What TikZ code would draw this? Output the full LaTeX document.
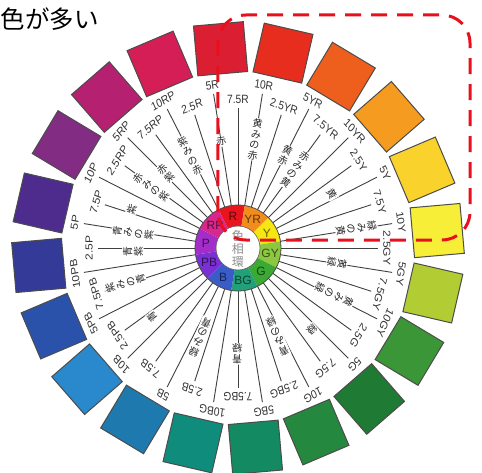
\documentclass[tikz,border=0pt]{standalone}
\usepackage{fontspec}
\setmainfont{Liberation Sans}
\newfontfamily\jp{Noto Sans CJK JP}
\definecolor{c5R}{HTML}{DC1E32}
\definecolor{c10R}{HTML}{E62D1E}
\definecolor{c5YR}{HTML}{EE5F1E}
\definecolor{c10YR}{HTML}{F59B20}
\definecolor{c5Y}{HTML}{F9D22C}
\definecolor{c10Y}{HTML}{F7EE38}
\definecolor{c5GY}{HTML}{B2CC34}
\definecolor{c10GY}{HTML}{3A9636}
\definecolor{c5G}{HTML}{1F7A34}
\definecolor{c10G}{HTML}{24893E}
\definecolor{c5BG}{HTML}{148A62}
\definecolor{c10BG}{HTML}{108C7C}
\definecolor{c5B}{HTML}{1E7AAE}
\definecolor{c10B}{HTML}{2A88CC}
\definecolor{c5PB}{HTML}{2A52AA}
\definecolor{c10PB}{HTML}{333A98}
\definecolor{c5P}{HTML}{4E2C8E}
\definecolor{c10P}{HTML}{822C84}
\definecolor{c5RP}{HTML}{B62070}
\definecolor{c10RP}{HTML}{D61E56}
\definecolor{rR}{HTML}{E8141E}
\definecolor{rYR}{HTML}{F28C1E}
\definecolor{rY}{HTML}{F5E614}
\definecolor{rGY}{HTML}{8DC63F}
\definecolor{rG}{HTML}{3AAA35}
\definecolor{rBG}{HTML}{22A07A}
\definecolor{rB}{HTML}{3A5CC8}
\definecolor{rPB}{HTML}{7A30D4}
\definecolor{rP}{HTML}{A22DC8}
\definecolor{rRP}{HTML}{D8288E}
\definecolor{dashred}{HTML}{E8101C}
\begin{document}
\begin{tikzpicture}[x=1pt,y=1pt,
  spoke/.style={draw=black!75, line width=0.9pt},
  huelab/.style={font=\fontsize{12}{12}\selectfont, text=black!80, xscale=0.85, inner sep=0.5pt},
  jname/.style={font=\jp\fontsize{10}{10.6}\selectfont, fill=white, inner sep=0.8pt, align=center, text=black!85},
  swatch/.style={draw=black!70, line width=1pt, minimum size=50pt, inner sep=0pt},
  ringlab/.style={font=\fontsize{12}{12}\selectfont, text=black, opacity=0.6, inner sep=0pt},
  reddash/.style={draw=dashred, line width=3pt, dash pattern=on 16pt off 10pt, rounded corners=28pt},
]
\fill[white] (-238,-224) rectangle (244,248);
\useasboundingbox (-238,-224) rectangle (244,248);
% outer swatches
\foreach \ang/\col [count=\i] in {95/c5R,77/c10R,59/c5YR,41/c10YR,23/c5Y,5/c10Y,-13/c5GY,-31/c10GY,-49/c5G,-67/c10G,-85/c5BG,-103/c10BG,-121/c5B,-139/c10B,-157/c5PB,-175/c10PB,167/c5P,149/c10P,131/c5RP,113/c10RP}
  \node[swatch, fill=\col, rotate=\ang-90] (sq\i) at (\ang:200) {};
% spokes and hue labels
\foreach \lab [count=\k from 0] in {2.5R,5R,7.5R,10R,2.5YR,5YR,7.5YR,10YR,2.5Y,5Y,7.5Y,10Y,2.5GY,5GY,7.5GY,10GY,2.5G,5G,7.5G,10G,2.5BG,5BG,7.5BG,10BG,2.5B,5B,7.5B,10B,2.5PB,5PB,7.5PB,10PB,2.5P,5P,7.5P,10P,2.5RP,5RP,7.5RP,10RP}{
  \pgfmathsetmacro\ang{108-9*\k}
  \ifodd\k \def\re{156}\def\rl{165}\else \def\re{140}\def\rl{149}\fi
  \coordinate (s\k) at (\ang:43);
  \node[huelab, rotate=\ang-90] (h\k) at (\ang:\rl) {\lab};
  \draw[spoke] (s\k) -- (\ang:\re);
}
% hue ring
\foreach \c/\t [count=\j from 0] in {rR/R,rYR/YR,rY/Y,rGY/GY,rG/G,rBG/BG,rB/B,rPB/PB,rP/P,rRP/RP}{
  \pgfmathsetmacro\a{117-36*\j}
  \pgfmathsetmacro\b{\a-36}
  \pgfmathsetmacro\m{\a-18}
  \fill[\c] (\a:22) arc[start angle=\a, end angle=\b, radius=22] -- (\b:43) arc[start angle=\b, end angle=\a, radius=43] -- cycle;
  \node[ringlab] (r\j) at (\m:32.5) {\t};
}
\draw[black!70, line width=0.8pt] (0,0) circle[radius=43];
\draw[black!60, line width=0.6pt] (0,0) circle[radius=22];
% Japanese colour names
\foreach \ang/\r/\t [count=\n] in {
  99/108/赤, 81/110/黄\\み\\の\\赤, 63/104/黄\\赤, 54/97/赤\\み\\の\\黄, 30/108/黄,
  9.5/120/緑\\み\\の\\黄, -8.5/100/黄\\緑, -26/107/黄\\み\\の\\緑, -48/110/緑, -66/97/青\\み\\の\\緑,
  -90.5/106/青\\緑, -113/97/緑\\み\\の\\青, -141/110/青, -162.5/118/紫\\み\\の\\青, 182/105/青\\紫,
  172/106/青\\み\\の\\紫, 160/113/紫, 145/106/赤\\み\\の\\紫, 134/104/赤\\紫, 117.5/104/紫\\み\\の\\赤}
  \node[jname, rotate=\ang-90] (nm\n) at (\ang:\r) {\t};
% centre text
\node[font=\jp\fontsize{12}{13}\selectfont, text=black!45, align=center, inner sep=0pt] (ctr) at (0,-1) {色\\相\\環};
% red dashed frame
\draw[reddash] (-20,8) rectangle (232,233);
% title fragment
\node[anchor=west, inner sep=0pt, font=\jp\fontsize{24.5}{25}\selectfont] (title) at (-237.5,229) {色が多い};
\end{tikzpicture}
\end{document}
